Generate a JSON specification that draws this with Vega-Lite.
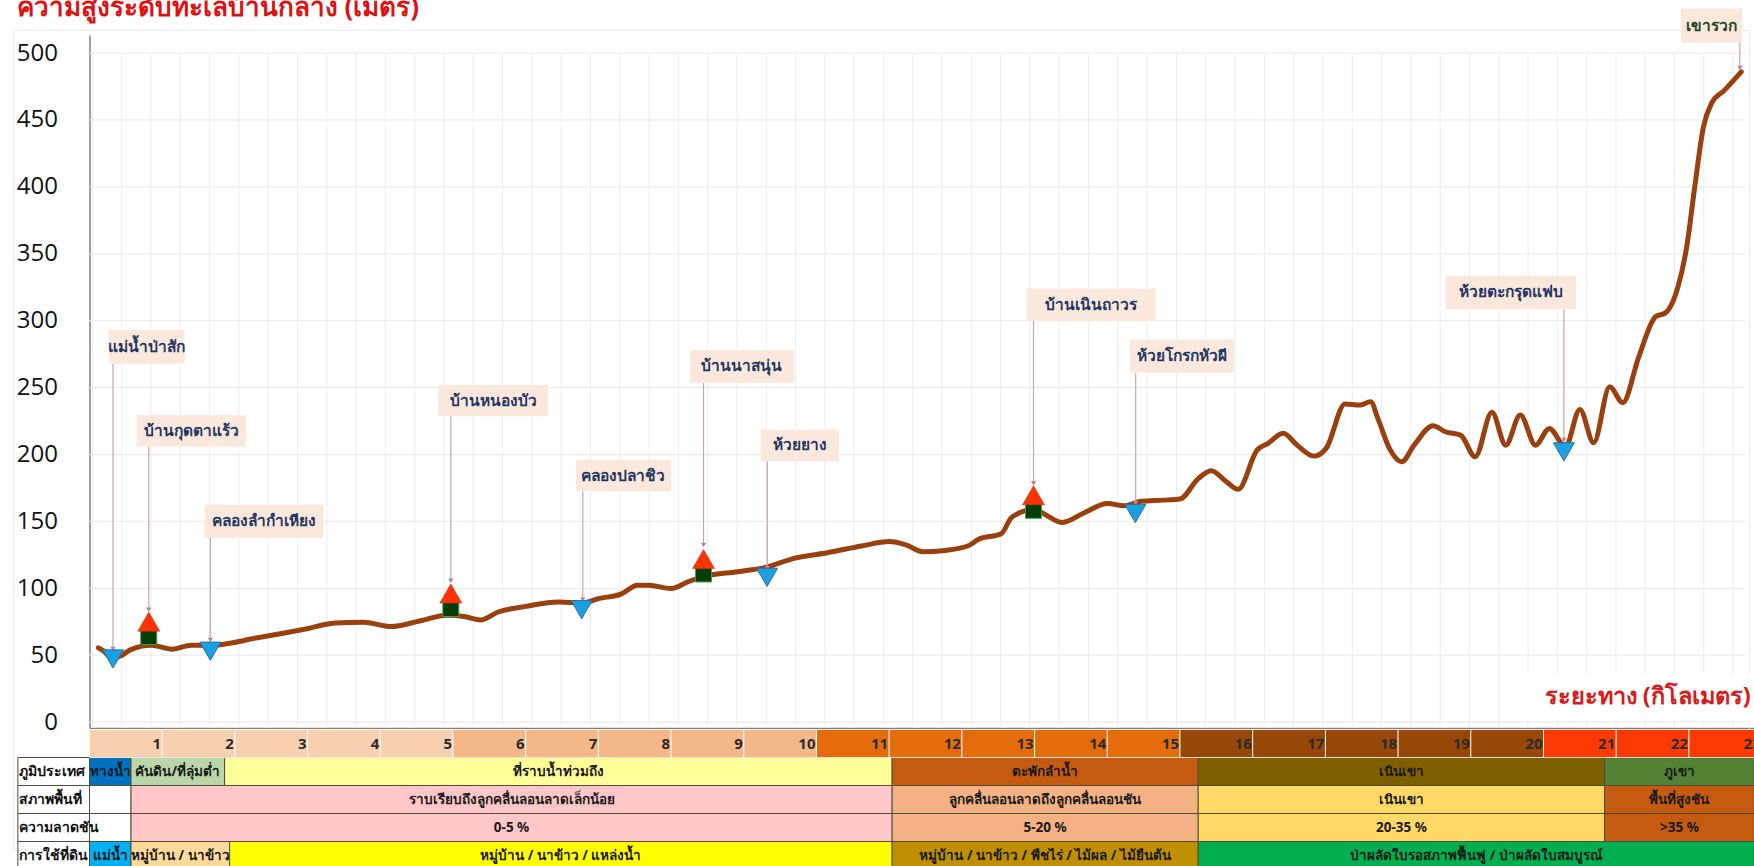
{"$schema":"https://vega.github.io/schema/vega-lite/v6.json","width":1664.5,"height":693,"autosize":"none","padding":{"left":89.5,"top":35,"right":0,"bottom":138},"background":"white","config":{"view":{"stroke":null},"font":"Noto Sans"},
"datasets":{
"curve":[{"km":0.12,"m":55.5},{"km":0.2,"m":53},{"km":0.3,"m":48},{"km":0.45,"m":50},{"km":0.56,"m":54},{"km":0.85,"m":57.5},{"km":1.135,"m":54.5},{"km":1.4,"m":57.5},{"km":1.66,"m":57.4},{"km":2.31,"m":63},{"km":2.92,"m":69},{"km":3.38,"m":74},{"km":3.77,"m":74.7},{"km":4.15,"m":71.4},{"km":4.54,"m":75.6},{"km":4.92,"m":79.8},{"km":5.15,"m":79},{"km":5.38,"m":76.4},{"km":5.62,"m":82.3},{"km":6,"m":86.5},{"km":6.46,"m":89.8},{"km":6.77,"m":89},{"km":7,"m":92.3},{"km":7.31,"m":95.7},{"km":7.54,"m":102.3},{"km":7.69,"m":102.3},{"km":8,"m":99.8},{"km":8.23,"m":104.8},{"km":8.46,"m":109},{"km":8.92,"m":112.4},{"km":9.31,"m":115.7},{"km":9.69,"m":122.4},{"km":10.15,"m":126.6},{"km":10.62,"m":131.6},{"km":11,"m":134.9},{"km":11.23,"m":132.4},{"km":11.46,"m":127.4},{"km":11.77,"m":128.3},{"km":12.08,"m":131.6},{"km":12.23,"m":136.6},{"km":12.54,"m":140.8},{"km":12.69,"m":153.3},{"km":13,"m":159},{"km":13.15,"m":155},{"km":13.38,"m":149.2},{"km":13.69,"m":156.7},{"km":14,"m":163.4},{"km":14.23,"m":161.7},{"km":14.46,"m":165},{"km":14.77,"m":165.9},{"km":15,"m":166.7},{"km":15.25,"m":182},{"km":15.43,"m":187.9},{"km":15.63,"m":180},{"km":15.8,"m":174},{"km":16.06,"m":203.3},{"km":16.21,"m":208.3},{"km":16.42,"m":215.8},{"km":16.61,"m":207},{"km":16.84,"m":198.8},{"km":17.01,"m":204.6},{"km":17.27,"m":237.7},{"km":17.47,"m":236.9},{"km":17.62,"m":239.4},{"km":17.73,"m":225.7},{"km":17.88,"m":204.6},{"km":18.05,"m":194.6},{"km":18.22,"m":207},{"km":18.48,"m":221.5},{"km":18.65,"m":217},{"km":18.86,"m":214.5},{"km":19.06,"m":198.3},{"km":19.29,"m":231.5},{"km":19.48,"m":207},{"km":19.68,"m":229.5},{"km":19.89,"m":207},{"km":20.08,"m":219.5},{"km":20.3,"m":205.8},{"km":20.5,"m":233.7},{"km":20.69,"m":208.8},{"km":20.91,"m":250.6},{"km":21.09,"m":238.7},{"km":21.31,"m":273},{"km":21.54,"m":302.9},{"km":21.68,"m":305.9},{"km":21.85,"m":325.4},{"km":21.97,"m":355.3},{"km":22.08,"m":400},{"km":22.2,"m":444.9},{"km":22.31,"m":462.4},{"km":22.49,"m":472.3},{"km":22.72,"m":486}],
"creeks":[{"km":0.323,"m":47.2},{"km":1.662,"m":53},{"km":6.77,"m":84},{"km":9.32,"m":108.2},{"km":14.385,"m":155.9},{"km":20.28,"m":202}],
"houses":[{"km":0.815,"m":63.9},{"km":4.97,"m":84.9},{"km":8.446,"m":110.7},{"km":12.985,"m":158.3}],
"callouts":[
{"name":"แม่น้ำป่าสัก","km":0.323,"tip":54.7,"from":0.262,"to":1.308,"top":293,"bottom":267.9,"labelKm":0.785,"labelM":280.45},
{"name":"บ้านกุดตาแร้ว","km":0.815,"tip":84,"from":0.646,"to":2.154,"top":229.4,"bottom":206,"labelKm":1.4,"labelM":217.7},
{"name":"คลองลำกำเหียง","km":1.662,"tip":61.4,"from":1.585,"to":3.215,"top":162.5,"bottom":137.5,"labelKm":2.4,"labelM":150},
{"name":"บ้านหนองบัว","km":4.97,"tip":105.7,"from":4.8,"to":6.31,"top":252,"bottom":228.6,"labelKm":5.555,"labelM":240.3},
{"name":"คลองปลาชิว","km":6.785,"tip":91.5,"from":6.69,"to":8.0,"top":196,"bottom":172.6,"labelKm":7.345,"labelM":184.3},
{"name":"บ้านนาสนุ่น","km":8.446,"tip":132.4,"from":8.26,"to":9.69,"top":278,"bottom":253.7,"labelKm":8.975,"labelM":265.85},
{"name":"ห้วยยาง","km":9.323,"tip":114.9,"from":9.23,"to":10.31,"top":218.6,"bottom":195,"labelKm":9.77,"labelM":206.8},
{"name":"บ้านเนินถาวร","km":12.985,"tip":178.4,"from":12.89,"to":14.66,"top":324,"bottom":299.7,"labelKm":13.775,"labelM":311.85},
{"name":"ห้วยโกรกหัวผี","km":14.39,"tip":163.4,"from":14.31,"to":15.74,"top":286,"bottom":261,"labelKm":15.025,"labelM":273.5},
{"name":"ห้วยตะกรุดแฟบ","km":20.28,"tip":210.8,"from":18.65,"to":20.45,"top":333.6,"bottom":308.6,"labelKm":19.55,"labelM":321.1},
{"name":"เขารวก","km":22.7,"tip":488.8,"from":21.89,"to":22.73,"top":533.3,"bottom":507.7,"labelKm":22.31,"labelM":520.5}],
"gridX":[{"km":0.04},{"km":0.443},{"km":0.846},{"km":1.249},{"km":1.652},{"km":2.055},{"km":2.458},{"km":2.861},{"km":3.264},{"km":3.667},{"km":4.07},{"km":4.473},{"km":4.876},{"km":5.279},{"km":5.682},{"km":6.085},{"km":6.488},{"km":6.891},{"km":7.294},{"km":7.697},{"km":8.1},{"km":8.503},{"km":8.906},{"km":9.309},{"km":9.712},{"km":10.115},{"km":10.518},{"km":10.921},{"km":11.324},{"km":11.727},{"km":12.13},{"km":12.533},{"km":12.936},{"km":13.339},{"km":13.742},{"km":14.145},{"km":14.548},{"km":14.951},{"km":15.354},{"km":15.757},{"km":16.16},{"km":16.563},{"km":16.966},{"km":17.369},{"km":17.772},{"km":18.175},{"km":18.578},{"km":18.981},{"km":19.384},{"km":19.787},{"km":20.19},{"km":20.593},{"km":20.996},{"km":21.399},{"km":21.802},{"km":22.205},{"km":22.608}],
"gridY":[{"m":0},{"m":50},{"m":100},{"m":150},{"m":200},{"m":250},{"m":300},{"m":350},{"m":400},{"m":450},{"m":500}],
"bands":[{"from":0,"to":1,"km":"1","zone":"a"},{"from":1,"to":2,"km":"2","zone":"a"},{"from":2,"to":3,"km":"3","zone":"a"},{"from":3,"to":4,"km":"4","zone":"a"},{"from":4,"to":5,"km":"5","zone":"a"},{"from":5,"to":6,"km":"6","zone":"b"},{"from":6,"to":7,"km":"7","zone":"b"},{"from":7,"to":8,"km":"8","zone":"b"},{"from":8,"to":9,"km":"9","zone":"b"},{"from":9,"to":10,"km":"10","zone":"b"},{"from":10,"to":11,"km":"11","zone":"c"},{"from":11,"to":12,"km":"12","zone":"c"},{"from":12,"to":13,"km":"13","zone":"c"},{"from":13,"to":14,"km":"14","zone":"c"},{"from":14,"to":15,"km":"15","zone":"c"},{"from":15,"to":16,"km":"16","zone":"d"},{"from":16,"to":17,"km":"17","zone":"d"},{"from":17,"to":18,"km":"18","zone":"d"},{"from":18,"to":19,"km":"19","zone":"d"},{"from":19,"to":20,"km":"20","zone":"d"},{"from":20,"to":21,"km":"21","zone":"e"},{"from":21,"to":22,"km":"22","zone":"e"},{"from":22,"to":23,"km":"23","zone":"e"}],
"cells":[
{"row":"ภูมิประเทศ","from":-0.985,"to":0,"mid":-0.49,"label":"","zone":"white"},
{"row":"สภาพพื้นที่","from":-0.985,"to":0,"mid":-0.49,"label":"","zone":"white"},
{"row":"ความลาดชัน","from":-0.985,"to":0,"mid":-0.49,"label":"","zone":"white"},
{"row":"การใช้ที่ดิน","from":-0.985,"to":0,"mid":-0.49,"label":"","zone":"white"},
{"row":"ภูมิประเทศ","from":0,"to":0.571,"mid":0.2855,"label":"ทางน้ำ","zone":"t1"},
{"row":"ภูมิประเทศ","from":0.571,"to":1.858,"mid":1.2145,"label":"คันดิน/ที่ลุ่มต่ำ","zone":"t2"},
{"row":"ภูมิประเทศ","from":1.858,"to":11.04,"mid":6.449,"label":"ที่ราบน้ำท่วมถึง","zone":"t3"},
{"row":"ภูมิประเทศ","from":11.04,"to":15.25,"mid":13.145,"label":"ตะพักลำน้ำ","zone":"t4"},
{"row":"ภูมิประเทศ","from":15.25,"to":20.84,"mid":18.045,"label":"เนินเขา","zone":"t5"},
{"row":"ภูมิประเทศ","from":20.84,"to":22.9,"mid":21.87,"label":"ภูเขา","zone":"t6"},
{"row":"สภาพพื้นที่","from":0,"to":0.571,"mid":0.2855,"label":"","zone":"white"},
{"row":"สภาพพื้นที่","from":0.571,"to":11.04,"mid":5.8055,"label":"ราบเรียบถึงลูกคลื่นลอนลาดเล็กน้อย","zone":"s1"},
{"row":"สภาพพื้นที่","from":11.04,"to":15.25,"mid":13.145,"label":"ลูกคลื่นลอนลาดถึงลูกคลื่นลอนชัน","zone":"s2"},
{"row":"สภาพพื้นที่","from":15.25,"to":20.84,"mid":18.045,"label":"เนินเขา","zone":"s3"},
{"row":"สภาพพื้นที่","from":20.84,"to":22.9,"mid":21.87,"label":"พื้นที่สูงชัน","zone":"s4"},
{"row":"ความลาดชัน","from":0,"to":0.571,"mid":0.2855,"label":"","zone":"white"},
{"row":"ความลาดชัน","from":0.571,"to":11.04,"mid":5.8055,"label":"0-5 %","zone":"s1"},
{"row":"ความลาดชัน","from":11.04,"to":15.25,"mid":13.145,"label":"5-20 %","zone":"s2"},
{"row":"ความลาดชัน","from":15.25,"to":20.84,"mid":18.045,"label":"20-35 %","zone":"s3"},
{"row":"ความลาดชัน","from":20.84,"to":22.9,"mid":21.87,"label":">35 %","zone":"s4"},
{"row":"การใช้ที่ดิน","from":0,"to":0.571,"mid":0.2855,"label":"แม่น้ำ","zone":"u1"},
{"row":"การใช้ที่ดิน","from":0.571,"to":1.927,"mid":1.249,"label":"หมู่บ้าน / นาข้าว","zone":"u2"},
{"row":"การใช้ที่ดิน","from":1.927,"to":11.04,"mid":6.4835,"label":"หมู่บ้าน / นาข้าว / แหล่งน้ำ","zone":"u3"},
{"row":"การใช้ที่ดิน","from":11.04,"to":15.25,"mid":13.145,"label":"หมู่บ้าน / นาข้าว / พืชไร่ / ไม้ผล / ไม้ยืนต้น","zone":"u4"},
{"row":"การใช้ที่ดิน","from":15.25,"to":22.9,"mid":19.08,"label":"ป่าผลัดใบรอสภาพฟื้นฟู / ป่าผลัดใบสมบูรณ์","zone":"u5"}]
},
"resolve":{"scale":{"y":"independent"},"axis":{"y":"independent"}},
"layer":[
{"layer":[
{"data":{"values":[{"a":-1.04,"b":22.83,"t":517,"u":-96}]},"mark":{"type":"rect","fill":null,"stroke":"#e9e9e9","strokeWidth":1},"encoding":{"x":{"field":"a","type":"quantitative","scale":{"domain":[0,22.895],"nice":false,"zero":false},"axis":{"labels":false,"ticks":false,"grid":false,"title":null,"domainColor":"#808080","domainWidth":1.5}},"x2":{"field":"b"},"y":{"field":"t","type":"quantitative","scale":{"domain":[-4.4,513.5],"nice":false,"zero":false},"axis":{"title":null,"values":[0,50,100,150,200,250,300,350,400,450,500],"ticks":false,"grid":false,"labelFontSize":24,"labelFont":"Open Sans","labelColor":"#111111","labelPadding":32,"domainColor":"#808080","domainWidth":1.5}},"y2":{"field":"u"}}},
{"data":{"name":"gridX"},"mark":{"type":"rule","color":"#ebebf2","strokeWidth":1},"encoding":{"x":{"field":"km","type":"quantitative"},"y":{"datum":500},"y2":{"datum":-4.4}}},
{"data":{"name":"gridY"},"mark":{"type":"rule","color":"#ececec","strokeWidth":1.3},"encoding":{"x":{"datum":0},"x2":{"datum":22.78},"y":{"field":"m","type":"quantitative"}}},
{"data":{"values":[{"text":"ความสูงระดับทะเลบ้านกลาง (เมตร)","km":-1.0,"m":528}]},"mark":{"type":"text","align":"left","baseline":"alphabetic","fontSize":26,"fontWeight":"bold","color":"#e01010"},"encoding":{"x":{"field":"km","type":"quantitative"},"y":{"field":"m","type":"quantitative"},"text":{"field":"text"}}},
{"data":{"values":[{"text":"ระยะทาง (กิโลเมตร)","a":19.74,"b":22.9,"t":36,"u":2,"km":22.85,"m":18.7}]},"layer":[
{"mark":{"type":"rect","fill":"white"},"encoding":{"x":{"field":"a","type":"quantitative"},"x2":{"field":"b"},"y":{"field":"t","type":"quantitative"},"y2":{"field":"u"}}},
{"mark":{"type":"text","align":"right","baseline":"middle","fontSize":23.5,"fontWeight":"bold","color":"#d81a1a"},"encoding":{"x":{"field":"km","type":"quantitative"},"y":{"field":"m","type":"quantitative"},"text":{"field":"text"}}}]},
{"data":{"name":"curve"},"mark":{"type":"line","color":"#9a3f0e","strokeWidth":5,"interpolate":"monotone","strokeCap":"round"},"encoding":{"x":{"field":"km","type":"quantitative"},"y":{"field":"m","type":"quantitative"}}},
{"data":{"name":"callouts"},"layer":[
{"mark":{"type":"rule","color":"#c9a3ae","strokeWidth":1.2},"encoding":{"x":{"field":"km","type":"quantitative"},"y":{"field":"bottom","type":"quantitative"},"y2":{"field":"tip"}}},
{"mark":{"type":"point","shape":"triangle-down","filled":true,"size":28,"color":"#c07f98","opacity":1},"encoding":{"x":{"field":"km","type":"quantitative"},"y":{"field":"tip","type":"quantitative"}}},
{"mark":{"type":"rect","fill":"#fbe8dc"},"encoding":{"x":{"field":"from","type":"quantitative"},"x2":{"field":"to"},"y":{"field":"top","type":"quantitative"},"y2":{"field":"bottom"}}},
{"mark":{"type":"text","fontSize":15.5,"fontWeight":"bold","baseline":"middle","align":"center"},"encoding":{"x":{"field":"labelKm","type":"quantitative"},"y":{"field":"labelM","type":"quantitative"},"text":{"field":"name"},"color":{"condition":{"test":"datum.name==='เขารวก'","value":"#1f4a24"},"value":"#1f3864"}}}]},
{"data":{"name":"creeks"},"mark":{"type":"point","shape":"triangle-down","filled":true,"size":441,"fill":"#1ba1e2","stroke":"#2a6f9a","strokeWidth":1,"opacity":1},"encoding":{"x":{"field":"km","type":"quantitative"},"y":{"field":"m","type":"quantitative"}}},
{"data":{"name":"houses"},"layer":[
{"mark":{"type":"point","shape":"square","filled":true,"size":256,"fill":"#063d06","stroke":"#3fa14a","strokeWidth":1,"opacity":1},"encoding":{"x":{"field":"km","type":"quantitative"},"y":{"field":"m","type":"quantitative"}}},
{"mark":{"type":"point","shape":"triangle-up","filled":true,"size":484,"fill":"#ff3300","stroke":"#c0392b","strokeWidth":0.6,"opacity":1,"yOffset":-15},"encoding":{"x":{"field":"km","type":"quantitative"},"y":{"field":"m","type":"quantitative"}}}]}
]},
{"layer":[
{"data":{"name":"cells"},"layer":[
{"mark":{"type":"rect","stroke":"#4d4d3a","strokeWidth":1},"encoding":{"x":{"field":"from","type":"quantitative"},"x2":{"field":"to"},"y":{"field":"row","type":"ordinal","scale":{"domain":["km","ภูมิประเทศ","สภาพพื้นที่","ความลาดชัน","การใช้ที่ดิน"],"range":[694.5,834.5],"paddingInner":0,"paddingOuter":0},"axis":{"orient":"left","title":null,"ticks":false,"domain":false,"labelAlign":"left","labelBaseline":"middle","labelPadding":71,"labelFontSize":14,"labelFontWeight":"bold","labelColor":"#111111","zindex":1,"labelExpr":"datum.value==='km'?'':datum.value"}},"fill":{"field":"zone","type":"nominal","legend":null,"scale":{"domain":["white","a","b","c","d","e","t1","t2","t3","t4","t5","t6","s1","s2","s3","s4","u1","u2","u3","u4","u5"],"range":["#ffffff","#f8cfaf","#f4b888","#e46c0a","#974806","#ff3a00","#0070c0","#b9d7a8","#ffff99","#c55a11","#7f6000","#548235","#ffc7c7","#f4b183","#ffd966","#c55a11","#00b0f0","#ffd999","#ffff00","#bf8f00","#00b050"]}}}},
{"mark":{"type":"text","fontSize":13.5,"fontWeight":"bold","align":"center","baseline":"middle","color":"#1a1a1a"},"encoding":{"x":{"field":"mid","type":"quantitative"},"y":{"field":"row","type":"ordinal"},"text":{"field":"label"}}}]},
{"data":{"name":"bands"},"layer":[
{"mark":{"type":"rect","stroke":"#ffffff","strokeWidth":0.8},"encoding":{"x":{"field":"from","type":"quantitative"},"x2":{"field":"to"},"y":{"datum":"km","type":"ordinal"},"fill":{"field":"zone","type":"nominal"}}},
{"mark":{"type":"text","fontSize":15,"fontWeight":"bold","align":"right","baseline":"middle","dx":-1,"color":"#2b2b2b"},"encoding":{"x":{"field":"to","type":"quantitative"},"y":{"datum":"km","type":"ordinal"},"text":{"field":"km"}}}]}
]}
]}
